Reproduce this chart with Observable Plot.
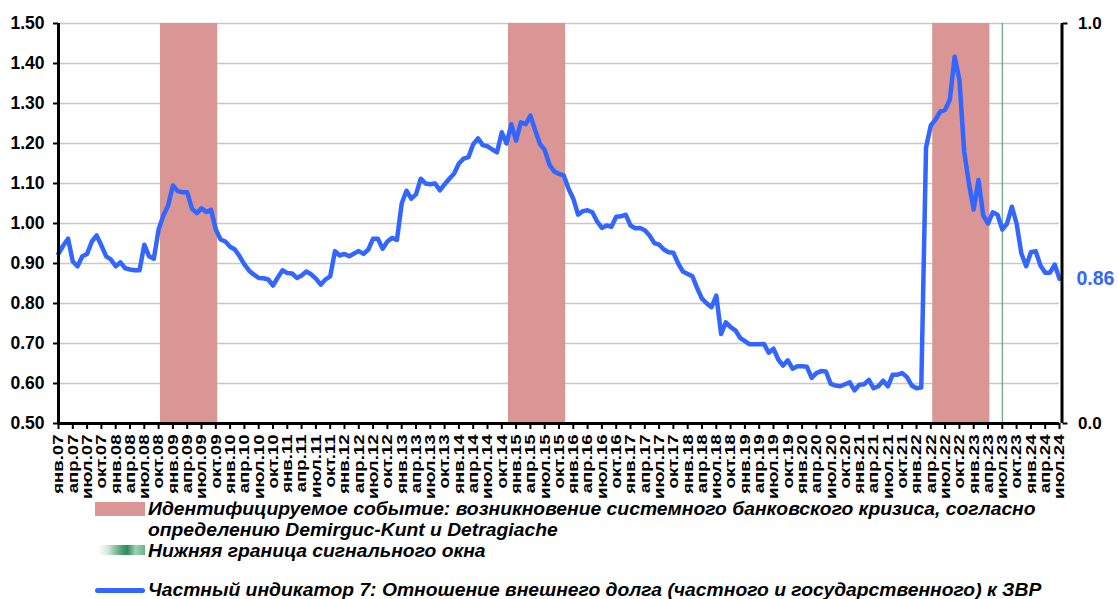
<!DOCTYPE html>
<html>
<head>
<meta charset="utf-8">
<script src="https://cdn.jsdelivr.net/npm/d3@7"></script>
<script src="https://cdn.jsdelivr.net/npm/@observablehq/plot@0.6"></script>
<style>
  html, body { margin: 0; padding: 0; background: #fff; }
  #page { position: relative; width: 1118px; height: 599px; overflow: hidden; font-family: "Liberation Sans", Arial, sans-serif; }
  .leg { position: absolute; left: 148px; font-weight: bold; font-style: italic; font-size: 17.5px; line-height: 20px; height: 20px; color: #000; white-space: nowrap; transform: scaleX(1.103); transform-origin: 0 50%; }
  .sw { position: absolute; }
</style>
</head>
<body>
<div id="page">
  <div id="chart"></div>
  <div class="sw" style="left:95px; top:502px; width:50px; height:14px; background:#D99694;"></div>
  <div class="leg" style="top:499px;">Идентифицируемое событие: возникновение системного банковского кризиса, согласно</div>
  <div class="leg" style="top:520px;">определению Demirguc-Kunt и Detragiache</div>
  <div class="sw" style="left:98px; top:545px; width:47px; height:10px; background:linear-gradient(90deg, #ffffff 0%, #d5eadc 20%, #4fa274 50%, #2f8a58 62%, #9fd0b0 80%, #6ab58a 100%);"></div>
  <div class="leg" style="top:541px;">Нижняя граница сигнального окна</div>
  <div class="sw" style="left:95px; top:588px; width:50px; height:5px; border-radius:3px; background:#3366FF;"></div>
  <div class="leg" style="top:580px;">Частный индикатор 7: Отношение внешнего долга (частного и государственного) к ЗВР</div>
</div>
<script>
// Monthly values, янв.2007 … июл.2024
const values = [
  0.925, 0.945, 0.962, 0.905, 0.893, 0.918, 0.924, 0.955, 0.970, 0.945, 0.918, 0.910,
  0.893, 0.903, 0.888, 0.885, 0.883, 0.883, 0.947, 0.918, 0.912, 0.985, 1.020, 1.045,
  1.095, 1.081, 1.078, 1.078, 1.037, 1.026, 1.038, 1.029, 1.034, 0.985, 0.960, 0.955,
  0.942, 0.935, 0.918, 0.898, 0.882, 0.872, 0.864, 0.863, 0.860, 0.845, 0.865, 0.883,
  0.876, 0.875, 0.864, 0.870, 0.880, 0.873, 0.862, 0.847, 0.860, 0.868, 0.931, 0.920,
  0.924, 0.918, 0.925, 0.931, 0.924, 0.935, 0.962, 0.962, 0.937, 0.955, 0.964, 0.959,
  1.050, 1.082, 1.062, 1.073, 1.112, 1.100, 1.098, 1.100, 1.083, 1.098, 1.112, 1.125,
  1.150, 1.162, 1.166, 1.198, 1.213, 1.196, 1.193, 1.185, 1.178, 1.228, 1.200, 1.248,
  1.207, 1.253, 1.248, 1.270, 1.233, 1.199, 1.184, 1.147, 1.130, 1.124, 1.120, 1.087,
  1.062, 1.022, 1.031, 1.033, 1.028, 1.005, 0.989, 0.995, 0.992, 1.017, 1.018, 1.022,
  0.995, 0.988, 0.989, 0.983, 0.970, 0.951, 0.947, 0.935, 0.928, 0.927, 0.900, 0.880,
  0.874, 0.868, 0.838, 0.812, 0.800, 0.791, 0.820, 0.724, 0.753, 0.741, 0.733, 0.714,
  0.706, 0.698, 0.698, 0.698, 0.699, 0.677, 0.687, 0.660, 0.645, 0.658, 0.637, 0.643,
  0.643, 0.642, 0.614, 0.626, 0.631, 0.630, 0.599, 0.595, 0.593, 0.598, 0.603, 0.583,
  0.597, 0.598, 0.609, 0.588, 0.593, 0.607, 0.593, 0.622, 0.622, 0.626, 0.616, 0.595,
  0.588, 0.590, 1.190, 1.245, 1.260, 1.280, 1.284, 1.310, 1.417, 1.360, 1.180, 1.100,
  1.035, 1.109, 1.020, 1.000, 1.028, 1.022, 0.985, 1.000, 1.042, 1.000, 0.925, 0.893,
  0.928, 0.931, 0.895, 0.877, 0.877, 0.897, 0.862
];

// Crisis periods (month index from янв.07), value 1 on the secondary axis
const crisisStart = [22, 95, 184];
const crisisEnd = [33, 106, 195];
const crisisValue = [1, 1, 1];

// Lower bound of the signal window (month index): июл.23
const signalWindow = [198];

// Axis ticks
const yTicks = [0.5, 0.6, 0.7, 0.8, 0.9, 1.0, 1.1, 1.2, 1.3, 1.4, 1.5];
const y2Ticks = [0.0, 1.0];
const quarterNames = ["янв.", "апр.", "июл.", "окт."];
const years = ["07","08","09","10","11","12","13","14","15","16","17","18","19","20","21","22","23","24"];
const lastLabel = "0.86";

const tickLabels = [];
years.forEach(yy => quarterNames.forEach(q => tickLabels.push(q + yy)));
const nMonths = values.length;
const xTicks = d3.range(0, nMonths, 3);

const series = values.map((v, i) => ({i, v}));
const crises = crisisStart.map((s, k) => ({s, e: crisisEnd[k], v: crisisValue[k]}));
const y2 = v => 0.5 + v * (1.5 - 0.5);

const chart = Plot.plot({
  width: 1118,
  height: 500,
  marginTop: 23,
  marginLeft: 58,
  marginRight: 59,
  marginBottom: 77,
  x: {type: "linear", domain: [0, nMonths - 1]},
  y: {domain: [0.5, 1.5]},
  style: {fontFamily: "'Liberation Sans', Arial, sans-serif", fontWeight: "bold", color: "#000", background: "#fff", overflow: "visible"},
  marks: [
    Plot.ruleY(yTicks.slice(1), {x1: 0, x2: nMonths - 1, stroke: "#c8c8c8", strokeWidth: 1.6}),
    Plot.rect(crises, {x1: d => d.s - 0.6, x2: d => d.e + 0.4, y1: y2(0), y2: d => y2(d.v), fill: "#D99694"}),
    Plot.ruleX(signalWindow, {x: d => d, y1: 0.5, y2: 1.5, stroke: "#5fa878", strokeWidth: 1.2}),
    Plot.line(series, {x: "i", y: "v", stroke: "#3366FF", strokeWidth: 4.5, strokeLinejoin: "round", strokeLinecap: "round"}),
    Plot.ruleX([0], {stroke: "#000", strokeWidth: 3}),
    Plot.ruleX([nMonths - 1], {stroke: "#000", strokeWidth: 3, dx: 2.5}),
    Plot.ruleY([0.5], {x1: 0, x2: nMonths - 1, stroke: "#000", strokeWidth: 3}),
    Plot.axisY(yTicks, {anchor: "left", tickSize: 5, tickPadding: 9, strokeWidth: 2, tickFormat: d3.format(".2f"), fontSize: 17.5, fontWeight: "bold", label: null}),
    Plot.axisY(y2Ticks.map(y2), {anchor: "right", dx: 2.5, tickSize: 5, tickPadding: 11, strokeWidth: 2, tickFormat: d => ((d - 0.5) / 1.0).toFixed(1), fontSize: 17, fontWeight: "bold", label: null}),
    Plot.axisX(xTicks, {anchor: "bottom", tickSize: 6, tickPadding: 5, strokeWidth: 2, tickRotate: -90, tickFormat: i => tickLabels[i / 3], fontSize: 15, fontWeight: "bold", label: null}),
    Plot.text([values[nMonths - 1]], {x: nMonths - 1, y: d => d, text: () => lastLabel, dx: 17, textAnchor: "start", fill: "#3366FF", fontSize: 19.5, fontWeight: "bold"})
  ]
});
document.getElementById("chart").appendChild(chart);

// stretch rotated x tick labels along their length, as in the reference
chart.querySelectorAll('g[aria-label="x-axis tick label"] text').forEach(t => {
  const tr = t.getAttribute("transform") || "";
  t.setAttribute("transform", tr + " scale(1.24,1)");
});
</script>
</body>
</html>
